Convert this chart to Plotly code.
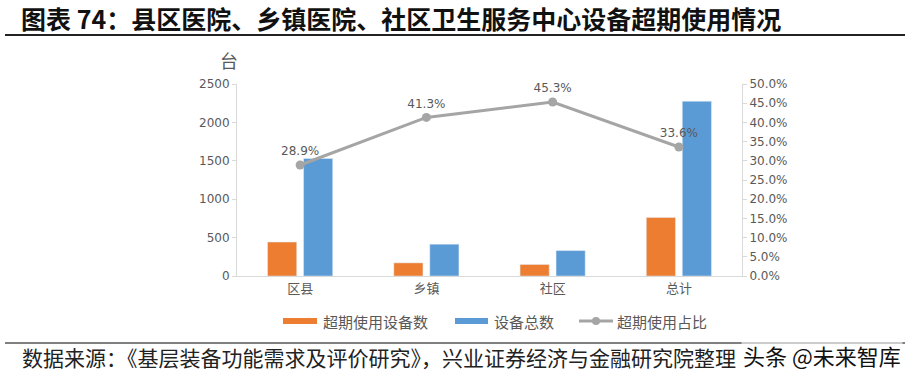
import plotly.graph_objects as go

categories = ["区县", "乡镇", "社区", "总计"]
overdue = [442, 171, 150, 763]
total = [1530, 414, 331, 2275]
ratio = [28.9, 41.3, 45.3, 33.6]
ratio_labels = ["28.9%", "41.3%", "45.3%", "33.6%"]
left_ticks = [0, 500, 1000, 1500, 2000, 2500]
right_ticks = [0, 5, 10, 15, 20, 25, 30, 35, 40, 45, 50]
right_tick_text = ["0.0%", "5.0%", "10.0%", "15.0%", "20.0%", "25.0%", "30.0%",
                   "35.0%", "40.0%", "45.0%", "50.0%"]
series_names = ["超期使用设备数", "设备总数", "超期使用占比"]

ORANGE = "#ED7D31"
BLUE = "#5B9BD5"
GRAY = "#A5A5A5"
CJK = "Noto Sans CJK SC"
NUM = "DejaVu Sans"

W, H = 915, 380
L, R, T, B = 237, 742, 84, 276

fig = go.Figure()
fig.add_trace(go.Bar(x=categories, y=overdue, name=series_names[0],
                     marker_color=ORANGE, showlegend=False))
fig.add_trace(go.Bar(x=categories, y=total, name=series_names[1],
                     marker_color=BLUE, showlegend=False))
fig.add_trace(go.Scatter(x=categories, y=ratio, name=series_names[2], yaxis="y2",
                         mode="lines+markers+text", text=ratio_labels,
                         textposition="top center",
                         textfont=dict(family=NUM, size=12, color="#595959"),
                         line=dict(color=GRAY, width=3),
                         marker=dict(color=GRAY, size=9), showlegend=False,
                         cliponaxis=False))

fig.update_layout(
    width=W, height=H,
    margin=dict(l=L, r=W - R, t=T, b=H - B),
    paper_bgcolor="white", plot_bgcolor="white",
    barmode="group", bargap=0.43, bargroupgap=0.19,
    showlegend=False,
    xaxis=dict(showline=True, linecolor="#D9D9D9", linewidth=1, ticks="",
               tickfont=dict(family=CJK, size=13, color="#595959"),
               showgrid=False, fixedrange=True),
    yaxis=dict(range=[0, 2500], tickvals=left_ticks, showgrid=False,
               showline=True, linecolor="#D9D9D9", linewidth=1,
               ticks="outside", ticklen=4, tickcolor="#D9D9D9",
               tickfont=dict(family=NUM, size=12, color="#595959"),
               zeroline=False),
    yaxis2=dict(range=[0, 50], tickvals=right_ticks, ticktext=right_tick_text,
                overlaying="y", side="right", showgrid=False,
                showline=True, linecolor="#D9D9D9", linewidth=1,
                ticks="outside", ticklen=4, tickcolor="#D9D9D9",
                tickfont=dict(family=NUM, size=12, color="#595959"),
                zeroline=False),
)

def px_x(p):
    return (p - L) / (R - L)

def px_y(p):
    return (B - p) / (B - T)

ann = []
shapes = []
# title
ann.append(dict(text="<b>图表 74：县区医院、乡镇医院、社区卫生服务中心设备超期使用情况</b>",
                x=px_x(19), y=px_y(18), xref="paper", yref="paper",
                xanchor="left", yanchor="middle", showarrow=False,
                font=dict(family=CJK, size=25, color="#111111")))
shapes.append(dict(type="line", xref="paper", yref="paper",
                   x0=px_x(5), x1=px_x(905), y0=px_y(35), y1=px_y(35),
                   line=dict(color="#222222", width=2)))
# unit label
ann.append(dict(text="台", x=px_x(229), y=px_y(60), xref="paper", yref="paper",
                xanchor="center", yanchor="middle", showarrow=False,
                font=dict(family=CJK, size=18, color="#595959")))
# legend
leg_y = px_y(321)
legend_items = [(283, 317, 321, ORANGE, "bar"), (455, 488, 492, BLUE, "bar"),
                (579, 613, 615, GRAY, "line")]
for (x0, x1, tx, col, kind), name in zip(legend_items, series_names):
    if kind == "bar":
        shapes.append(dict(type="line", xref="paper", yref="paper",
                           x0=px_x(x0), x1=px_x(x1), y0=leg_y, y1=leg_y,
                           line=dict(color=col, width=6)))
    else:
        shapes.append(dict(type="line", xref="paper", yref="paper",
                           x0=px_x(x0), x1=px_x(x1), y0=leg_y, y1=leg_y,
                           line=dict(color=col, width=3)))
        cx = (x0 + x1) / 2
        shapes.append(dict(type="circle", xref="paper", yref="paper",
                           x0=px_x(cx - 4), x1=px_x(cx + 4),
                           y0=px_y(321 + 4), y1=px_y(321 - 4),
                           fillcolor=col, line=dict(color=col, width=0)))
    ann.append(dict(text=name, x=px_x(tx), y=leg_y, xref="paper", yref="paper",
                    xanchor="left", yanchor="middle", showarrow=False,
                    font=dict(family=CJK, size=15, color="#595959")))
# bottom rule and source
shapes.append(dict(type="line", xref="paper", yref="paper",
                   x0=px_x(5), x1=px_x(905), y0=px_y(343), y1=px_y(343),
                   line=dict(color="#808080", width=2)))
ann.append(dict(text="数据来源：《基层装备功能需求及评价研究》，兴业证券经济与金融研究院整理",
                x=px_x(20), y=px_y(357), xref="paper", yref="paper",
                xanchor="left", yanchor="middle", showarrow=False,
                font=dict(family=CJK, size=21, color="#222222")))
ann.append(dict(text="头条 @未来智库", x=px_x(903), y=px_y(355),
                xref="paper", yref="paper", xanchor="right", yanchor="middle",
                showarrow=False, bgcolor="rgba(255,255,255,0.6)",
                font=dict(family=CJK, size=22, color="#111111")))

fig.update_layout(annotations=ann, shapes=shapes)
fig.write_html("out.html", config={"displayModeBar": False},
               post_script="document.body.style.margin='0';")
